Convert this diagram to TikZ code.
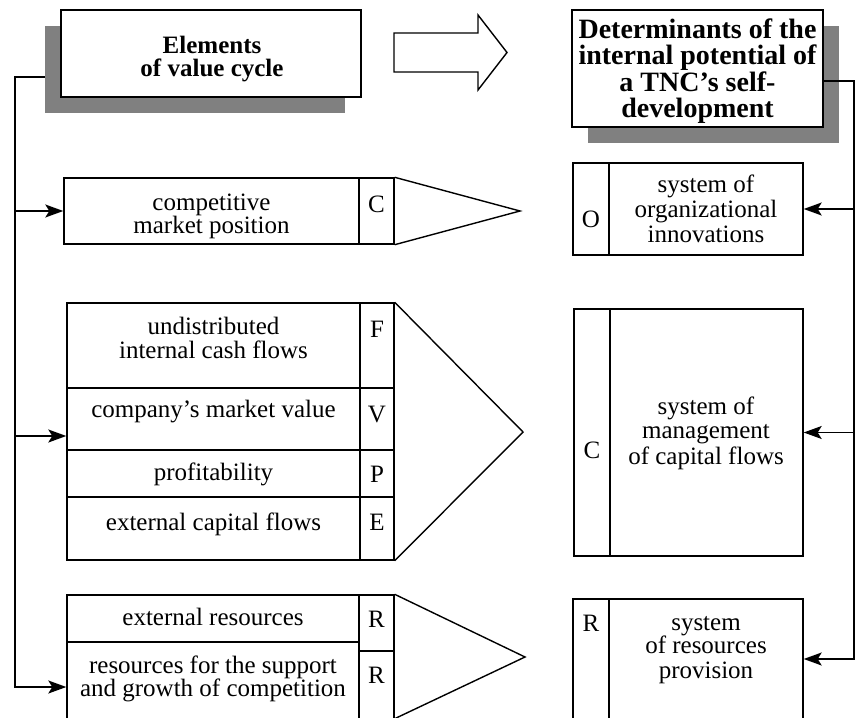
\documentclass[tikz,border=0pt]{standalone}
\usepackage{fontspec}
\setmainfont{Liberation Serif}
\usetikzlibrary{arrows.meta}
\definecolor{shadowgray}{RGB}{128,128,128}
\tikzset{
  box/.style={draw, line width=1.4pt, fill=white, inner sep=0pt, rectangle},
  shadowbox/.style={fill=shadowgray, inner sep=0pt, rectangle},
  body/.style={anchor=base, inner sep=0pt, font=\fontsize{25}{23}\selectfont},
  headL/.style={anchor=base, inner sep=0pt, font=\fontsize{25}{24}\selectfont\bfseries},
  headR/.style={anchor=base, inner sep=0pt, font=\fontsize{28}{26}\selectfont\bfseries},
  conn/.style={line width=1.4pt},
  arr/.style={conn, -{Stealth[length=18pt,width=13pt,inset=4pt]}},
  tri/.style={line width=1.4pt, line join=miter},
  bigarrow/.style={draw, line width=1.4pt, fill=white, line join=miter},
}
\newcommand\mkbox[6]{\node[#1, minimum width={(#5-#3)*1pt}, minimum height={(#6-#4)*1pt}] (#2) at ({(#3+#5)/2},{(#4+#6)/2}) {};}
\begin{document}
\begin{tikzpicture}[x=1pt,y=-1pt]
\useasboundingbox (0,0) rectangle (856,717);
\clip (0,0) rectangle (856,717);
% headers
\mkbox{shadowbox}{hLsh}{45}{26}{345}{113}
\mkbox{box}{hL}{61}{10}{361}{97}
\mkbox{shadowbox}{hRsh}{588}{26}{839}{143}
\mkbox{box}{hR}{572}{10}{823}{127}
\node[headL] (hL1) at (212,53) {Elements};
\node[headL] (hL2) at (212,77) {of value cycle};
\node[headR] (hR1) at (697.5,39) {Determinants of the};
\node[headR] (hR2) at (697.5,65) {internal potential of};
\node[headR] (hR3) at (697.5,91) {a TNC’s self-};
\node[headR] (hR4) at (697.5,117) {development};
% block arrow
\draw[bigarrow] (394,33) -- (478,33) -- (478,15) -- (507,52.5) -- (478,90) -- (478,72) -- (394,72) -- cycle;
% left group 1
\mkbox{box}{cT}{64}{178}{359}{244}
\mkbox{box}{cL}{359}{178}{394}{244}
\coordinate (tipC) at (520,211);
\draw[tri] (cL.north east) -- (tipC) -- (cL.south east);
\node[body] (cT1) at (211.5,210) {competitive};
\node[body] (cT2) at (211.5,233) {market position};
\node[body] (cLt) at (376.5,212) {C};
% left group 2
\mkbox{box}{fT}{67}{303}{360}{388}
\mkbox{box}{vT}{67}{388}{360}{450}
\mkbox{box}{pT}{67}{450}{360}{497}
\mkbox{box}{eT}{67}{497}{360}{560}
\mkbox{box}{fL}{360}{303}{394}{388}
\mkbox{box}{vL}{360}{388}{394}{450}
\mkbox{box}{pL}{360}{450}{394}{497}
\mkbox{box}{eL}{360}{497}{394}{560}
\coordinate (tipB) at (523,432);
\draw[tri] (fL.north east) -- (tipB) -- (eL.south east);
\node[body] (fT1) at (213.5,334) {undistributed};
\node[body] (fT2) at (213.5,358) {internal cash flows};
\node[body] (vT1) at (213.5,417) {company’s market value};
\node[body] (pT1) at (213.5,480) {profitability};
\node[body] (eT1) at (213.5,530) {external capital flows};
\node[body] (fLt) at (377,337) {F};
\node[body] (vLt) at (377,422) {V};
\node[body] (pLt) at (377,482) {P};
\node[body] (eLt) at (377,530) {E};
% left group 3
\mkbox{box}{rT1}{67}{595}{359}{642}
\mkbox{box}{rT2}{67}{642}{359}{740}
\mkbox{box}{rL1}{359}{595}{394}{651}
\mkbox{box}{rL2}{359}{651}{394}{740}
\coordinate (tipR) at (525,657);
\coordinate (rBot) at (394,719);
\draw[tri] (rL1.north east) -- (tipR) -- (rBot);
\node[body] (rT1a) at (213,625) {external resources};
\node[body] (rT2a) at (213,673) {resources for the support};
\node[body] (rT2b) at (213,696) {and growth of competition};
\node[body] (rL1t) at (376.5,627) {R};
\node[body] (rL2t) at (376.5,683) {R};
% right boxes
\mkbox{box}{oL}{573}{163}{609}{255}
\mkbox{box}{oT}{609}{163}{803}{255}
\node[body] (oLt) at (591,227) {O};
\node[body] (oT1) at (706,192) {system of};
\node[body] (oT2) at (706,217) {organizational};
\node[body] (oT3) at (706,242) {innovations};
\mkbox{box}{kL}{574}{309}{610}{556}
\mkbox{box}{kT}{610}{309}{803}{556}
\node[body] (kLt) at (592,458) {C};
\node[body] (kT1) at (706,414) {system of};
\node[body] (kT2) at (706,438) {management};
\node[body] (kT3) at (706,464) {of capital flows};
\mkbox{box}{sL}{573}{599}{609}{740}
\mkbox{box}{sT}{609}{599}{803}{740}
\node[body] (sLt) at (591,631) {R};
\node[body] (sT1) at (706,630) {system};
\node[body] (sT2) at (706,653) {of resources};
\node[body] (sT3) at (706,678) {provision};
% left bus
\coordinate (lbTop) at (15,77);
\coordinate (lbMid) at (15,436);
\coordinate (lbBot) at (15,687);
\draw[arr] (hLsh.west |- lbTop) -- (lbTop) |- (rT2.west |- lbBot);
\draw[arr] (lbTop |- cT.west) -- (cT.west);
\draw[arr] (lbMid) -- (vT.west |- lbMid);
% right bus
\coordinate (rbTop) at (854,81);
\coordinate (rbBot) at (854,659);
\draw[arr] (hR.east |- rbTop) -- (rbTop) |- (sT.east |- rbBot);
\draw[arr] (rbTop |- oT.east) -- (oT.east);
\draw[arr] (rbTop |- kT.east) -- (kT.east);
\end{tikzpicture}
\end{document}
